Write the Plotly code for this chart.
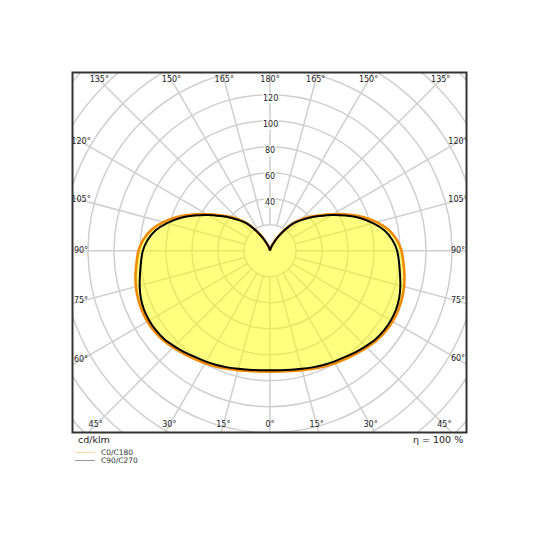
import numpy as np
import plotly.graph_objects as go

# ---- data (cd/klm), gamma angles 0..180 step 5 ----
gamma_deg = list(range(0, 185, 5))
c0_c180 = [93, 93.3, 94, 95.2, 96.6, 98.2, 100, 101.6, 103.4, 105.3, 107.2, 108.4, 108.9,
           108.7, 108.0, 106.8, 105.0, 103.0, 101.2, 97.8, 92.6, 85.0, 76.0, 66.0, 56.0,
           47.5, 40.5, 34.0, 27.5, 19.5, 12.5, 7.0, 3.5, 1.5, 0.5, 0.0, 0.0]
c90_c270 = [92, 92.3, 93, 94.1, 95.5, 97.0, 98.5, 100.0, 102.0, 104.0, 106.0, 107.0, 107.3,
            107.0, 105.8, 103.8, 101.5, 99.6, 97.8, 94.5, 89.5, 82.0, 73.5, 64.0, 55.0,
            46.5, 39.5, 33.0, 27.0, 19.0, 12.0, 6.5, 3.5, 1.5, 0.5, 0.0, 0.0]
radial_ticks = [40, 60, 80, 100, 120]
grid_circles = [20, 40, 60, 80, 100, 120, 140, 160, 180, 200, 220, 240]
angle_ticks = [0, 15, 30, 45, 60, 75, 90, 105, 120, 135, 150, 165, 180]
series_names = ["C0/C180", "C90/C270"]
unit_label = "cd/klm"
eff_label = "η = 100 %"

# ---- geometry of the frame (page pixels; the page adds an 8px body margin) ----
W = H = 540
off = 8.0
box_l, box_r, box_t, box_b = 72.5 - off, 466.5 - off, 72.5 - off, 432.5 - off
cx, cy = 270.0 - off, 250.7 - off
s = 1.3  # px per cd/klm
xr = [(box_l - cx) / s, (box_r - cx) / s]
yr = [-(box_b - cy) / s, (cy - box_t) / s]


def closed_curve(vals):
    g = np.radians(np.array(gamma_deg, dtype=float))
    v = np.array(vals, dtype=float)
    # right half from 180 down to 0, then left half from 0 up to 180
    xr_ = v[::-1] * np.sin(g[::-1])
    yr_ = -v[::-1] * np.cos(g[::-1])
    xl = -v[1:] * np.sin(g[1:])
    yl = -v[1:] * np.cos(g[1:])
    return np.concatenate([xr_, xl]), np.concatenate([yr_, yl])


fig = go.Figure()

x0c, y0c = closed_curve(c0_c180)
fig.add_trace(go.Scatter(x=x0c, y=y0c, mode="lines", fill="toself",
                         fillcolor="rgba(255,255,0,0.5)",
                         line=dict(color="#f08a00", width=2.6, shape="spline", smoothing=0.6),
                         name=series_names[0], hoverinfo="skip"))
x9c, y9c = closed_curve(c90_c270)
fig.add_trace(go.Scatter(x=x9c, y=y9c, mode="lines",
                         line=dict(color="#000000", width=2, shape="spline", smoothing=0.6),
                         name=series_names[1], hoverinfo="skip"))

grid_col = "#cfcfcf"
shapes = []
for r in grid_circles:
    shapes.append(dict(type="circle", xref="x", yref="y", x0=-r, x1=r, y0=-r, y1=r,
                       line=dict(color=grid_col, width=1.5), layer="below"))
for a in range(-180, 180, 15):
    t = np.radians(a)
    shapes.append(dict(type="line", xref="x", yref="y",
                       x0=20 * np.sin(t), y0=-20 * np.cos(t),
                       x1=300 * np.sin(t), y1=-300 * np.cos(t),
                       line=dict(color=grid_col, width=1.5), layer="below"))
# frame
shapes.append(dict(type="rect", xref="x domain", yref="y domain", x0=0, x1=1, y0=0, y1=1,
                   line=dict(color="#333333", width=2), layer="above"))
# legend swatches
lx0, lx1 = (75 - off) / W, (95 - off) / W
shapes.append(dict(type="line", xref="paper", yref="paper", x0=lx0, x1=lx1,
                   y0=1 - (452.5 - off) / H, y1=1 - (452.5 - off) / H,
                   line=dict(color="#fbd9a8", width=1)))
shapes.append(dict(type="line", xref="paper", yref="paper", x0=lx0, x1=lx1,
                   y0=1 - (460.5 - off) / H, y1=1 - (460.5 - off) / H,
                   line=dict(color="#9a9a9a", width=1)))

# angle labels along the inside of the frame (clipped by the axes)
inset_x, inset_y = 8.5 / s, 7.5 / s
ix0, ix1 = xr[0] + inset_x, xr[1] - inset_x
iy0, iy1 = yr[0] + inset_y, yr[1] - inset_y
lab_x, lab_y, lab_t = [], [], []
for a in angle_ticks:
    for sign in ([1] if a in (0, 180) else [1, -1]):
        t = np.radians(a)
        dx, dy = sign * np.sin(t), -np.cos(t)
        ks = []
        if dx > 1e-9:
            ks.append(ix1 / dx)
        if dx < -1e-9:
            ks.append(ix0 / dx)
        if dy > 1e-9:
            ks.append(iy1 / dy)
        if dy < -1e-9:
            ks.append(iy0 / dy)
        k = min(ks)
        lab_x.append(k * dx)
        lab_y.append(k * dy)
        lab_t.append(f"{a}°")
fig.add_trace(go.Scatter(x=lab_x, y=lab_y, text=lab_t, mode="text", cliponaxis=True,
                         textfont=dict(family="DejaVu Sans", size=8, color="#222222"),
                         hoverinfo="skip"))

annotations = []
for v in radial_ticks:
    annotations.append(dict(x=0, y=v, xref="x", yref="y", text=str(v), showarrow=False,
                            yshift=-3.5, bgcolor="white", borderpad=0,
                            font=dict(family="DejaVu Sans", size=8, color="#222222")))
annotations.append(dict(x=(76 - off) / W, y=1 - (439 - off) / H, xref="paper", yref="paper",
                        text=unit_label, showarrow=False, xanchor="left", yanchor="middle",
                        font=dict(family="DejaVu Sans", size=9.5, color="#222222")))
annotations.append(dict(x=(464.5 - off) / W, y=1 - (439 - off) / H, xref="paper", yref="paper",
                        text=eff_label, showarrow=False, xanchor="right", yanchor="middle",
                        font=dict(family="DejaVu Sans", size=9.5, color="#222222")))
for name, yy in zip(series_names, [452.5, 460.5]):
    annotations.append(dict(x=(99 - off) / W, y=1 - (yy - off) / H, xref="paper", yref="paper",
                            text=name, showarrow=False, xanchor="left", yanchor="middle",
                            font=dict(family="DejaVu Sans", size=7.5, color="#333333")))

fig.update_layout(
    width=W, height=H, margin=dict(l=0, r=0, t=0, b=0),
    paper_bgcolor="white", plot_bgcolor="white", showlegend=False,
    xaxis=dict(domain=[box_l / W, box_r / W], range=xr, visible=False, fixedrange=True),
    yaxis=dict(domain=[1 - box_b / H, 1 - box_t / H], range=yr, visible=False, fixedrange=True),
    shapes=shapes, annotations=annotations,
)
fig.write_html("out.html")
